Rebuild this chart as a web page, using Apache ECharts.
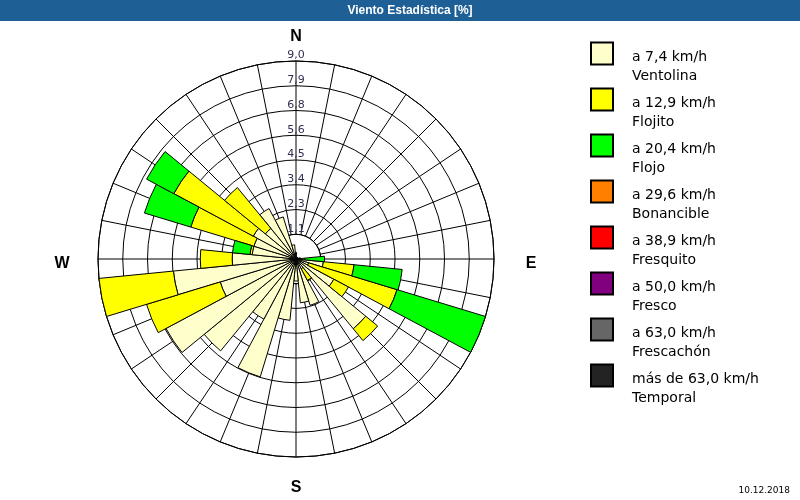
<!DOCTYPE html>
<html>
<head>
<meta charset="utf-8">
<script src="https://cdn.jsdelivr.net/npm/echarts@6/dist/echarts.min.js"></script>
<style>html,body{margin:0;padding:0;background:#fff}#c{width:800px;height:500px}</style>
</head>
<body>
<div id="c"></div>
<script>
// 32 directions, clockwise from North
const directions = ['N','NbE','NNE','NEbN','NE','NEbE','ENE','EbN','E','EbS','ESE','SEbE','SE','SEbS','SSE','SbE',
                    'S','SbW','SSW','SWbS','SW','SWbW','WSW','WbS','W','WbN','WNW','NWbW','NW','NWbN','NNW','NbW'];
// percent per speed class
const ventolina  = [0.3,0.1,0.1,0.1,0.1,0.1,0.1,0.2,0.3,1.25,0.6,1.95,4.1,0.5,2.2,2.0,1.0,2.8,5.6,3.1,5.4,6.7,3.6,5.6,2.9,2.0,2.0,2.2,1.8,2.6,2.0,0.65];
const flojito    = [0,0,0,0,0,0,0,0,0.1,1.4,4.2,0.75,0.7,0.6,0,0,0,0,0,0,0,0,3.5,3.4,1.45,0.1,3.0,4.1,2.4,0,0,0];
const flojo      = [0,0,0,0,0,0,0,0,0.9,2.2,4.2,0,0,0,0,0,0,0,0,0,0,0,0,0,0,0.8,2.2,1.4,0,0,0,0];
const bonancible = new Array(32).fill(0);
const fresquito  = new Array(32).fill(0);
const fresco     = new Array(32).fill(0);
const frescachon = new Array(32).fill(0);
const temporal   = new Array(32).fill(0);
const radiusTicks = ['1,1','2,3','3,4','4,5','5,6','6,8','7,9','9,0'];
const classSpeeds = ['a 7,4 km/h','a 12,9 km/h','a 20,4 km/h','a 29,6 km/h','a 38,9 km/h','a 50,0 km/h','a 63,0 km/h','más de 63,0 km/h'];
const classLabels = ['Ventolina','Flojito','Flojo','Bonancible','Fresquito','Fresco','Frescachón','Temporal'];
const classColors = ['#FFFFCC','#FFFF00','#00FF00','#FF8000','#FF0000','#800080','#666666','#232323'];
const classData = [ventolina, flojito, flojo, bonancible, fresquito, fresco, frescachon, temporal];
const classNames = classSpeeds.map((s, i) => s + '\n' + classLabels[i]);

const CX = 296, CY = 259, R = 198, RMAX = 9, STEP = 1.125;
const chart = echarts.init(document.getElementById('c'), null, {renderer:'canvas'});
const series = classData.map((d, i) => ({
  type: 'bar', coordinateSystem: 'polar', polarIndex: 0, stack: 'w', name: classNames[i],
  data: d.map(v => v === 0 ? '-' : v), barCategoryGap: '0%', barGap: '0%',
  itemStyle: {color: classColors[i], borderColor: '#000', borderWidth: 1},
  emphasis: {disabled: true}, animation: false, z: 3
}));
chart.setOption({
  animation: false,
  backgroundColor: '#fff',
  polar: [
    {center: [CX, CY], radius: R},
    {center: [CX, CY], radius: [R * STEP / RMAX, R]}
  ],
  angleAxis: [
    {polarIndex: 0, type: 'category', data: directions, startAngle: 90 + 180/32, clockwise: true,
     axisLine: {show: false}, axisTick: {show: false}, axisLabel: {show: false}, splitLine: {show: false}},
    {polarIndex: 1, type: 'value', min: 0, max: 360, interval: 360/32, startAngle: 90, clockwise: true,
     axisLine: {show: true, lineStyle: {color: '#000', width: 1}}, axisTick: {show: false}, axisLabel: {show: false},
     splitLine: {show: true, lineStyle: {color: '#000', width: 1}}}
  ],
  radiusAxis: [
    {polarIndex: 0, type: 'value', min: 0, max: RMAX, show: false},
    {polarIndex: 1, type: 'value', min: STEP, max: RMAX, interval: STEP,
     axisLine: {show: false}, axisTick: {show: false},
     axisLabel: {show: true, margin: 0, align: 'center', verticalAlign: 'bottom',
       fontFamily: 'DejaVu Sans', fontSize: 11, color: '#303050',
       formatter: v => radiusTicks[Math.round(v / STEP) - 1]},
     splitLine: {show: true, lineStyle: {color: '#000', width: 1}}}
  ],
  legend: {
    orient: 'vertical', left: 590, top: 41.5, padding: 0, itemWidth: 22, itemHeight: 22, itemGap: 4,
    icon: 'rect', selectedMode: false,
    formatter: name => '{t|' + name.split('\n')[0] + '}\n{t|' + name.split('\n')[1] + '}',
    textStyle: {fontFamily: 'DejaVu Sans', fontSize: 14, color: '#000', padding: [27, 0, 0, 14],
      rich: {t: {fontFamily: 'DejaVu Sans', fontSize: 14, lineHeight: 19, color: '#000'}}},
    data: classNames
  },
  graphic: [
    {type: 'rect', shape: {x: 0, y: 0, width: 800, height: 21}, style: {fill: '#1e5f96'}, z: 10},
    {type: 'text', x: 410, y: 11, style: {text: 'Viento Estadística [%]', fill: '#fff', font: 'bold 12px "Liberation Sans"', textAlign: 'center', textVerticalAlign: 'middle'}, z: 11},
    {type: 'text', x: CX, y: 37, style: {text: 'N', fill: '#000', font: 'bold 16px "Liberation Sans"', textAlign: 'center', textVerticalAlign: 'middle'}},
    {type: 'text', x: CX, y: 488, style: {text: 'S', fill: '#000', font: 'bold 16px "Liberation Sans"', textAlign: 'center', textVerticalAlign: 'middle'}},
    {type: 'text', x: 62, y: 264, style: {text: 'W', fill: '#000', font: 'bold 16px "Liberation Sans"', textAlign: 'center', textVerticalAlign: 'middle'}},
    {type: 'text', x: 531, y: 264, style: {text: 'E', fill: '#000', font: 'bold 16px "Liberation Sans"', textAlign: 'center', textVerticalAlign: 'middle'}},
    {type: 'text', x: 790, y: 491, style: {text: '10.12.2018', fill: '#000', font: '9px "DejaVu Sans"', textAlign: 'right', textVerticalAlign: 'middle'}}
  ],
  series: series
});
</script>
</body>
</html>
